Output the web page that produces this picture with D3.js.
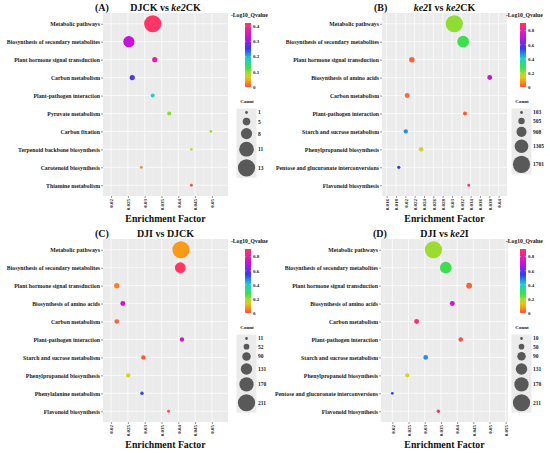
<!DOCTYPE html>
<html>
<head>
<meta charset="utf-8">
<script src="https://cdn.jsdelivr.net/npm/d3@7"></script>
<style>
  body { margin: 0; background: #fff; }
  svg { display: block; }
  text { font-family: "Liberation Serif", "Times New Roman", serif; font-weight: bold; }
</style>
</head>
<body>
<div class="viz"></div>
<script>
// ---- data ----
const pathwaysA = ['Metabolic pathways', 'Biosynthesis of secondary metabolites', 'Plant hormone signal transduction',
    'Carbon metabolism', 'Plant-pathogen interaction', 'Pyruvate metabolism', 'Carbon fixation',
    'Terpenoid backbone biosynthesis', 'Carotenoid biosynthesis', 'Thiamine metabolism'];
const factorA = [0.0324, 0.0253, 0.0330, 0.0263, 0.0324, 0.0373, 0.0497, 0.0439, 0.0290, 0.0439];
const countA = [13, 8, 3, 3, 2, 2, 1, 1, 1, 1];
const qvalueA = [0.42, 0.33, 0.37, 0.27, 0.18, 0.10, 0.09, 0.07, 0.03, 0.0];

const pathwaysB = ['Metabolic pathways', 'Biosynthesis of secondary metabolites', 'Plant hormone signal transduction',
    'Biosynthesis of amino acids', 'Carbon metabolism', 'Plant-pathogen interaction', 'Starch and sucrose metabolism',
    'Phenylpropanoid biosynthesis', 'Pentose and glucuronate interconversions', 'Flavonoid biosynthesis'];
const factorB = [0.0305, 0.0324, 0.0214, 0.0381, 0.0204, 0.0328, 0.0201, 0.0234, 0.0186, 0.0336];
const countB = [1701, 1100, 400, 340, 340, 230, 270, 300, 150, 103];
const qvalueB = [0.21, 0.28, 0.02, 0.73, 0.03, 0.01, 0.47, 0.15, 0.55, 0.91];

const pathwaysC = ['Metabolic pathways', 'Biosynthesis of secondary metabolites', 'Plant hormone signal transduction',
    'Biosynthesis of amino acids', 'Carbon metabolism', 'Plant-pathogen interaction', 'Starch and sucrose metabolism',
    'Phenylpropanoid biosynthesis', 'Phenylalanine metabolism', 'Flavonoid biosynthesis'];
const factorC = [0.0408, 0.0406, 0.0217, 0.0235, 0.0217, 0.0411, 0.0296, 0.0251, 0.0292, 0.0371];
const countC = [211, 122, 46, 41, 36, 33, 33, 33, 19, 11];
const qvalueC = [0.08, 0.91, 0.05, 0.72, 0.02, 0.75, 0.01, 0.15, 0.55, 0.0];

const pathwaysD = pathwaysB;
const factorD = [0.0327, 0.0365, 0.0437, 0.0385, 0.0275, 0.0411, 0.0303, 0.0246, 0.0200, 0.0342];
const countD = [211, 134, 53, 40, 40, 33, 36, 30, 10, 18];
const qvalueD = [0.20, 0.28, 0.02, 0.72, 0.88, 0.0, 0.47, 0.15, 0.55, 0.91];

const ticksAC = [0.02, 0.025, 0.03, 0.035, 0.04, 0.045, 0.05];
const ticksB = [0.016, 0.018, 0.02, 0.022, 0.024, 0.026, 0.028, 0.03, 0.032, 0.034, 0.036, 0.038, 0.04];
const ticksD = [0.02, 0.025, 0.03, 0.035, 0.04, 0.045, 0.05, 0.055];

const qTicksA = [0, 0.1, 0.2, 0.3, 0.4];
const qTicksBCD = [0, 0.2, 0.4, 0.6, 0.8];

const countBreaksA = [1, 5, 8, 11, 13];
const countBreaksB = [103, 505, 908, 1305, 1701];
const countBreaksC = [11, 52, 90, 131, 170, 211];
const countBreaksD = [10, 50, 90, 131, 170, 211];

// rainbow-ish gradient used for -Log10_Qvalue
const gradStops = [0, 0.08, 0.17, 0.3, 0.45, 0.6, 0.78, 1];
const gradColors = ['#FF4D38', '#FF9418', '#D6D81E', '#3FE04A', '#1CCDD2', '#2F3FF0', '#C810E0', '#FF3563'];

const panels = [
    { id: 'A', ox: 0, oy: 0, tag: '(A)', title: [['DJCK vs ', false], ['ke2', true], ['CK', false]],
      names: pathwaysA, factor: factorA, count: countA, qvalue: qvalueA,
      ticks: ticksAC, xDomain: [0.0176, 0.0548], left: 103, right: 228,
      qMax: 0.42, qTicks: qTicksA, breaks: countBreaksA },
    { id: 'B', ox: 275, oy: 0, tag: '(B)', title: [['ke2', true], ['I vs ', false], ['ke2', true], ['CK', false]],
      names: pathwaysB, factor: factorB, count: countB, qvalue: qvalueB,
      ticks: ticksB, xDomain: [0.0150, 0.0418], left: 107, right: 232,
      qMax: 0.91, qTicks: qTicksBCD, breaks: countBreaksB },
    { id: 'C', ox: 0, oy: 226, tag: '(C)', title: [['DJI vs DJCK', false]],
      names: pathwaysC, factor: factorC, count: countC, qvalue: qvalueC,
      ticks: ticksAC, xDomain: [0.0176, 0.0548], left: 103, right: 228,
      qMax: 0.91, qTicks: qTicksBCD, breaks: countBreaksC },
    { id: 'D', ox: 275, oy: 226, tag: '(D)', title: [['DJI vs ', false], ['ke2', true], ['I', false]],
      names: pathwaysD, factor: factorD, count: countD, qvalue: qvalueD,
      ticks: ticksD, xDomain: [0.0165, 0.0557], left: 106, right: 233,
      qMax: 0.91, qTicks: qTicksBCD, breaks: countBreaksD }
];

const svg = d3.select('.viz').append('svg')
    .attr('width', 550)
    .attr('height', 453);

const plotTop = 13, plotBottom = 196;

panels.forEach(p => {
    const g = svg.append('svg')
        .attr('x', p.ox).attr('y', p.oy)
        .attr('width', 275).attr('height', 227)
        .attr('overflow', 'hidden');

    const x = d3.scaleLinear().domain(p.xDomain).range([p.left, p.right]);
    const y = d3.scalePoint().domain(p.names).range([plotTop, plotBottom]).padding(0.6);
    const color = d3.scaleLinear()
        .domain(gradStops.map(t => t * p.qMax))
        .range(gradColors)
        .interpolate(d3.interpolateRgb)
        .clamp(true);
    const r = d3.scaleLinear().domain(d3.extent(p.breaks)).range([1.4, 8.6]);

    // panel background + grid
    g.append('rect')
        .attr('x', p.left).attr('y', plotTop)
        .attr('width', p.right - p.left).attr('height', plotBottom - plotTop)
        .attr('fill', '#EBEBEB');

    const step = p.ticks[1] - p.ticks[0];
    const minor = [p.ticks[0] - step / 2].concat(p.ticks.map(t => t + step / 2))
        .filter(v => v > p.xDomain[0] && v < p.xDomain[1]);
    g.selectAll('.minor').data(minor).enter().append('line')
        .attr('x1', d => x(d)).attr('x2', d => x(d))
        .attr('y1', plotTop).attr('y2', plotBottom)
        .attr('stroke', '#F5F5F5').attr('stroke-width', 0.4);
    g.selectAll('.vmajor').data(p.ticks).enter().append('line')
        .attr('x1', d => x(d)).attr('x2', d => x(d))
        .attr('y1', plotTop).attr('y2', plotBottom)
        .attr('stroke', '#fff').attr('stroke-width', 0.7);
    g.selectAll('.hmajor').data(p.names).enter().append('line')
        .attr('x1', p.left).attr('x2', p.right)
        .attr('y1', d => y(d)).attr('y2', d => y(d))
        .attr('stroke', '#fff').attr('stroke-width', 0.7);

    // points
    g.selectAll('.pt').data(p.names).enter().append('circle')
        .attr('cx', (d, i) => x(p.factor[i]))
        .attr('cy', d => y(d))
        .attr('r', (d, i) => r(p.count[i]))
        .attr('fill', (d, i) => color(p.qvalue[i]));

    // y axis
    const yAxis = g.append('g')
        .attr('transform', `translate(${p.left},0)`)
        .call(d3.axisLeft(y).tickSize(2).tickPadding(1));
    yAxis.select('.domain').remove();
    yAxis.selectAll('line').attr('stroke', '#333').attr('stroke-width', 0.5);
    yAxis.selectAll('text')
        .attr('font-size', 5.8)
        .attr('fill', '#1a1a1a');

    // x axis
    const xAxis = g.append('g')
        .attr('transform', `translate(0,${plotBottom})`)
        .call(d3.axisBottom(x).tickValues(p.ticks).tickFormat(d => String(d)).tickSize(2).tickPadding(1));
    xAxis.select('.domain').remove();
    xAxis.selectAll('line').attr('stroke', '#333').attr('stroke-width', 0.5);
    xAxis.selectAll('text')
        .attr('font-size', 5)
        .attr('fill', '#1a1a1a')
        .attr('transform', 'rotate(-90)')
        .attr('text-anchor', 'end')
        .attr('dy', '0.35em')
        .attr('x', -3)
        .attr('y', 0);

    g.append('text')
        .attr('x', (p.left + p.right) / 2).attr('y', 222)
        .attr('text-anchor', 'middle')
        .attr('font-size', 9.8)
        .attr('fill', '#111')
        .text('Enrichment Factor');

    // titles
    g.append('text')
        .attr('x', p.left - 8).attr('y', 11)
        .attr('font-size', 10)
        .attr('fill', '#111')
        .text(p.tag);
    const t = g.append('text')
        .attr('x', (p.left + p.right) / 2).attr('y', 11)
        .attr('text-anchor', 'middle')
        .attr('font-size', 10)
        .attr('fill', '#111');
    p.title.forEach(([s, it]) => {
        t.append('tspan').attr('font-style', it ? 'italic' : 'normal').text(s);
    });

    // colour legend
    const cbX = 245, cbW = 6, cbTop = 23, cbBot = 87;
    const q = d3.scaleLinear().domain([0, p.qMax]).range([cbBot, cbTop]);
    const gradId = 'grad' + p.id;
    const grad = g.append('defs').append('linearGradient')
        .attr('id', gradId)
        .attr('x1', 0).attr('y1', 1).attr('x2', 0).attr('y2', 0);
    d3.range(0, 1.0001, 0.05).forEach(f => {
        grad.append('stop').attr('offset', f).attr('stop-color', color(f * p.qMax));
    });
    g.append('text')
        .attr('x', 231).attr('y', 17)
        .attr('font-size', 5.6)
        .attr('fill', '#111')
        .text('-Log10_Qvalue');
    g.append('rect')
        .attr('x', cbX).attr('y', cbTop)
        .attr('width', cbW).attr('height', cbBot - cbTop)
        .attr('fill', `url(#${gradId})`);
    p.qTicks.forEach(v => {
        g.append('line')
            .attr('x1', cbX).attr('x2', cbX + 1.2)
            .attr('y1', q(v)).attr('y2', q(v))
            .attr('stroke', '#fff').attr('stroke-width', 0.4);
        g.append('line')
            .attr('x1', cbX + cbW - 1.2).attr('x2', cbX + cbW)
            .attr('y1', q(v)).attr('y2', q(v))
            .attr('stroke', '#fff').attr('stroke-width', 0.4);
        g.append('text')
            .attr('x', cbX + cbW + 2).attr('y', q(v))
            .attr('dy', '0.35em')
            .attr('font-size', 5)
            .attr('fill', '#1a1a1a')
            .text(String(v));
    });

    // size legend
    g.append('text')
        .attr('x', 247).attr('y', 103)
        .attr('text-anchor', 'middle')
        .attr('font-size', 5)
        .attr('fill', '#111')
        .text('Count');
    const hs = p.breaks.map(b => Math.max(2 * r(b) + 2.6, 8));
    const boxTop = 108.5;
    g.append('rect')
        .attr('x', 236.5).attr('y', boxTop)
        .attr('width', 20).attr('height', d3.sum(hs))
        .attr('fill', '#EBEBEB');
    let yy = boxTop;
    p.breaks.forEach((b, i) => {
        const cy = yy + hs[i] / 2;
        g.append('circle')
            .attr('cx', 246.5).attr('cy', cy)
            .attr('r', r(b))
            .attr('fill', '#595959');
        g.append('text')
            .attr('x', 258).attr('y', cy)
            .attr('dy', '0.35em')
            .attr('font-size', 5.5)
            .attr('fill', '#1a1a1a')
            .text(String(b));
        yy += hs[i];
    });
});
</script>
</body>
</html>
